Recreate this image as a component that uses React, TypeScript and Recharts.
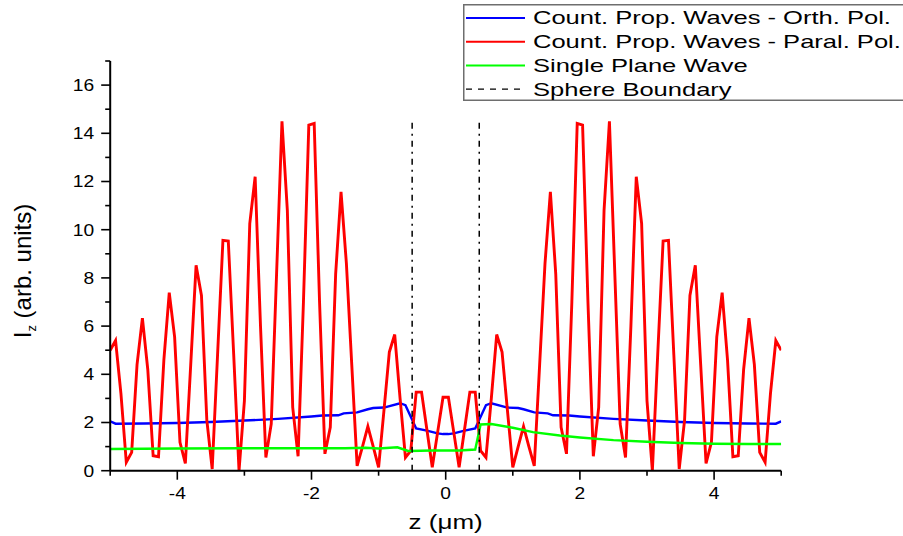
import { LineChart, Line, XAxis, YAxis, ReferenceLine } from 'recharts';

// sample positions (µm) of the parallel-polarisation curve
const redZ = [
  -5, -4.92, -4.84, -4.76, -4.68, -4.6, -4.52, -4.44, -4.36, -4.28, -4.2, -4.12, -4.04, -3.96, -3.88, -3.8,
  -3.72, -3.64, -3.56, -3.48, -3.4, -3.32, -3.24, -3.16, -3.08, -3, -2.92, -2.84, -2.76, -2.68, -2.6, -2.52,
  -2.44, -2.36, -2.28, -2.2, -2.12, -2.04, -1.96, -1.88, -1.8, -1.72, -1.64, -1.56, -1.48, -1.4, -1.32, -1.24,
  -1.16, -1.08, -1, -0.92, -0.84, -0.76, -0.68, -0.6, -0.52, -0.44, -0.36, -0.28, -0.2, -0.12, -0.04,
  0.04, 0.12, 0.2, 0.28, 0.36, 0.44, 0.52, 0.6, 0.68, 0.76, 0.84, 0.92, 1, 1.08, 1.16, 1.24, 1.32, 1.4,
  1.48, 1.56, 1.64, 1.72, 1.8, 1.88, 1.96, 2.04, 2.12, 2.2, 2.28, 2.36, 2.44, 2.52, 2.6, 2.68, 2.76, 2.84,
  2.92, 3, 3.08, 3.16, 3.24, 3.32, 3.4, 3.48, 3.56, 3.64, 3.72, 3.8, 3.88, 3.96, 4.04, 4.12, 4.2, 4.28, 4.36,
  4.44, 4.52, 4.6, 4.68, 4.76, 4.84, 4.92, 5,
];
const redVals = [
  5.0, 5.4, 3.2, 0.35, 0.76, 4.4, 6.33, 4.2, 0.62, 0.58, 4.6, 7.39, 5.55, 1.18, 0.3, 4.4,
  8.52, 7.27, 2.1, 0.07, 4.8, 9.56, 9.53, 4.85, 0.0, 2.9, 10.25, 12.2, 6.0, 0.55, 1.94, 8.2,
  14.5, 10.8, 2.63, 0.6, 7.0, 14.34, 14.41, 7.0, 0.7, 1.8, 8.17, 11.57, 8.6, 4.4, 0.2, 1.0,
  1.84, 1.0, 0.14, 2.5, 4.92, 5.65, 3.0, 0.55, 0.83, 3.26, 3.26, 1.7, 0.14, 1.6, 3.05,
  3.05, 1.6, 0.14, 1.7, 3.26, 3.26, 0.83, 0.55, 3.0, 5.65, 4.92, 2.5, 0.14, 1.0, 1.84, 1.0, 0.2, 4.4,
  8.6, 11.57, 8.17, 1.8, 0.7, 7.0, 14.41, 14.34, 7.0, 0.6, 2.63, 10.8, 14.5, 8.2, 1.94, 0.55, 6.0, 12.2,
  10.25, 2.9, 0.0, 4.85, 9.53, 9.56, 4.8, 0.07, 2.1, 7.27, 8.52, 4.4, 0.3, 1.18, 5.55, 7.39, 4.6, 0.58, 0.62,
  4.2, 6.33, 4.4, 0.76, 0.35, 3.2, 5.4, 5.0,
];

const blueZ = [
  -5, -4.92, -4.5, -4, -3.5, -3, -2.5, -2, -1.84, -1.6, -1.52, -1.32, -1.16, -1.08, -0.92, -0.68, -0.6,
  -0.44, -0.28, -0.12, -0.04, 0.04, 0.12, 0.28, 0.44, 0.6, 0.68, 0.92, 1.08, 1.16, 1.32, 1.52, 1.6, 1.84,
  2, 2.5, 3, 3.5, 4, 4.5, 4.92, 5,
];
const blueVals = [
  2.05, 1.95, 1.96, 1.98, 2.02, 2.08, 2.15, 2.25, 2.29, 2.3, 2.38, 2.42, 2.55, 2.6, 2.62, 2.8, 2.72,
  1.75, 1.66, 1.55, 1.52, 1.52, 1.55, 1.66, 1.75, 2.72, 2.8, 2.62, 2.6, 2.55, 2.42, 2.38, 2.3, 2.29,
  2.25, 2.15, 2.08, 2.02, 1.98, 1.96, 1.95, 2.05,
];

const greenZ = [
  -5, -4, -3, -2, -1.5, -1.2, -1, -0.72, -0.56, -0.2, 0.2, 0.44, 0.52, 0.68, 1, 1.3, 1.7, 2, 2.5, 3, 3.5,
  4, 4.5, 5,
];
const greenVals = [
  0.9, 0.92, 0.93, 0.93, 0.93, 0.95, 0.92, 0.97, 0.82, 0.84, 0.84, 0.88, 1.92, 1.94, 1.78, 1.6, 1.46,
  1.38, 1.27, 1.2, 1.15, 1.12, 1.11, 1.11,
];

const sphereEdges = [-0.5, 0.5];
const sphereTop = 14.6;

const xTicks = [-5, -4, -3, -2, -1, 0, 1, 2, 3, 4, 5];
const yTicks = [0, 1, 2, 3, 4, 5, 6, 7, 8, 9, 10, 11, 12, 13, 14, 15, 16, 17];

const legendItems = [
  { label: 'Count. Prop. Waves - Orth. Pol.', color: '#0000ff', dash: undefined },
  { label: 'Count. Prop. Waves - Paral. Pol.', color: '#ff0000', dash: undefined },
  { label: 'Single Plane Wave', color: '#00ff00', dash: undefined },
  { label: 'Sphere Boundary', color: '#000000', dash: '6 6' },
];

const toRows = (zs: number[], vs: number[]) => zs.map((z, i) => ({ z, v: vs[i] }));

const FONT = '"Liberation Sans", Arial, sans-serif';

// stretch text horizontally around its anchor
const stretch = (x: number, k: number) => `translate(${x} 0) scale(${k} 1) translate(${-x} 0)`;

// eslint-disable-next-line @typescript-eslint/no-explicit-any
const XTick = ({ x, y, payload }: any) => {
  const major = payload.value % 2 === 0;
  return (
    <g>
      <line x1={x} y1={y} x2={x} y2={y + (major ? 9 : 5)} stroke="#000" strokeWidth={1.6} />
      {major && (
        <text x={x} y={y + 28} textAnchor="middle" fontSize={16} fontFamily={FONT} fill="#000" transform={stretch(x, 1.2)}>
          {payload.value}
        </text>
      )}
    </g>
  );
};

// eslint-disable-next-line @typescript-eslint/no-explicit-any
const YTick = ({ x, y, payload }: any) => {
  const major = payload.value % 2 === 0;
  return (
    <g>
      <line x1={x - (major ? 9 : 5)} y1={y} x2={x} y2={y} stroke="#000" strokeWidth={1.6} />
      {major && (
        <text x={x - 16} y={y + 6} textAnchor="end" fontSize={16} fontFamily={FONT} fill="#000" transform={stretch(x - 16, 1.2)}>
          {payload.value}
        </text>
      )}
    </g>
  );
};

// eslint-disable-next-line @typescript-eslint/no-explicit-any
const XTitle = ({ viewBox }: any) => {
  const cx = viewBox.x + viewBox.width / 2;
  return (
    <text x={cx} y={529} textAnchor="middle" fontSize={20} fontFamily={FONT} fill="#000" transform={stretch(cx, 1.3)}>
      z (μm)
    </text>
  );
};

const YTitle = () => {
  const cx = 31;
  const cy = 271;
  return (
    <text x={cx} y={cy} textAnchor="middle" fontSize={24} fontFamily={FONT} fill="#000" transform={`rotate(-90 ${cx} ${cy})`}>
      I<tspan fontSize={13} dy={5}>z</tspan>
      <tspan dy={-5}> (arb. units)</tspan>
    </text>
  );
};

const Legend = () => (
  <svg width={440} height={97} style={{ position: 'absolute', left: 463, top: 4 }}>
    <rect x={0.75} y={0.75} width={460} height={95.5} fill="#fff" stroke="#6e6e6e" strokeWidth={1.5} />
    {legendItems.map((it, i) => {
      const ly = 14 + i * 23.7;
      return (
        <g key={it.label}>
          <line x1={3} x2={62} y1={ly} y2={ly} stroke={it.color} strokeWidth={it.dash ? 1.2 : 2} strokeDasharray={it.dash} />
          <text x={70} y={ly + 6.5} fontSize={17.5} fontFamily={FONT} fill="#000" transform={stretch(70, 1.46)}>
            {it.label}
          </text>
        </g>
      );
    })}
  </svg>
);

export default function App() {
  return (
    <div style={{ position: 'absolute', left: 0, top: 0, width: 903, height: 536, background: '#fff', overflow: 'hidden' }}>
      <LineChart width={903} height={536} margin={{ top: 61, right: 121.8, bottom: 35.3, left: 50.2 }}>
        <XAxis
          type="number"
          dataKey="z"
          domain={[-5, 5]}
          ticks={xTicks}
          allowDataOverflow
          height={30}
          axisLine={{ stroke: '#000', strokeWidth: 2 }}
          tickLine={false}
          tickSize={0}
          tickMargin={0}
          tick={<XTick />}
          interval={0}
          label={<XTitle />}
        />
        <YAxis
          type="number"
          domain={[0, 17]}
          ticks={yTicks}
          allowDataOverflow
          width={60}
          axisLine={{ stroke: '#000', strokeWidth: 2 }}
          tickLine={false}
          tickSize={0}
          tickMargin={0}
          tick={<YTick />}
          interval={0}
          label={<YTitle />}
        />
        <Line data={toRows(blueZ, blueVals)} dataKey="v" type="linear" stroke="#0000ff" strokeWidth={2.4} dot={false} isAnimationActive={false} />
        <Line data={toRows(redZ, redVals)} dataKey="v" type="linear" stroke="#ff0000" strokeWidth={2.9} dot={false} isAnimationActive={false} />
        <Line data={toRows(greenZ, greenVals)} dataKey="v" type="linear" stroke="#00ff00" strokeWidth={2.4} dot={false} isAnimationActive={false} />
        {sphereEdges.map((e) => (
          <ReferenceLine
            key={e}
            segment={[{ x: e, y: 0 }, { x: e, y: sphereTop }]}
            stroke="#000"
            strokeWidth={1.5}
            strokeDasharray="6 5 2 5"
          />
        ))}
      </LineChart>
      <Legend />
    </div>
  );
}
